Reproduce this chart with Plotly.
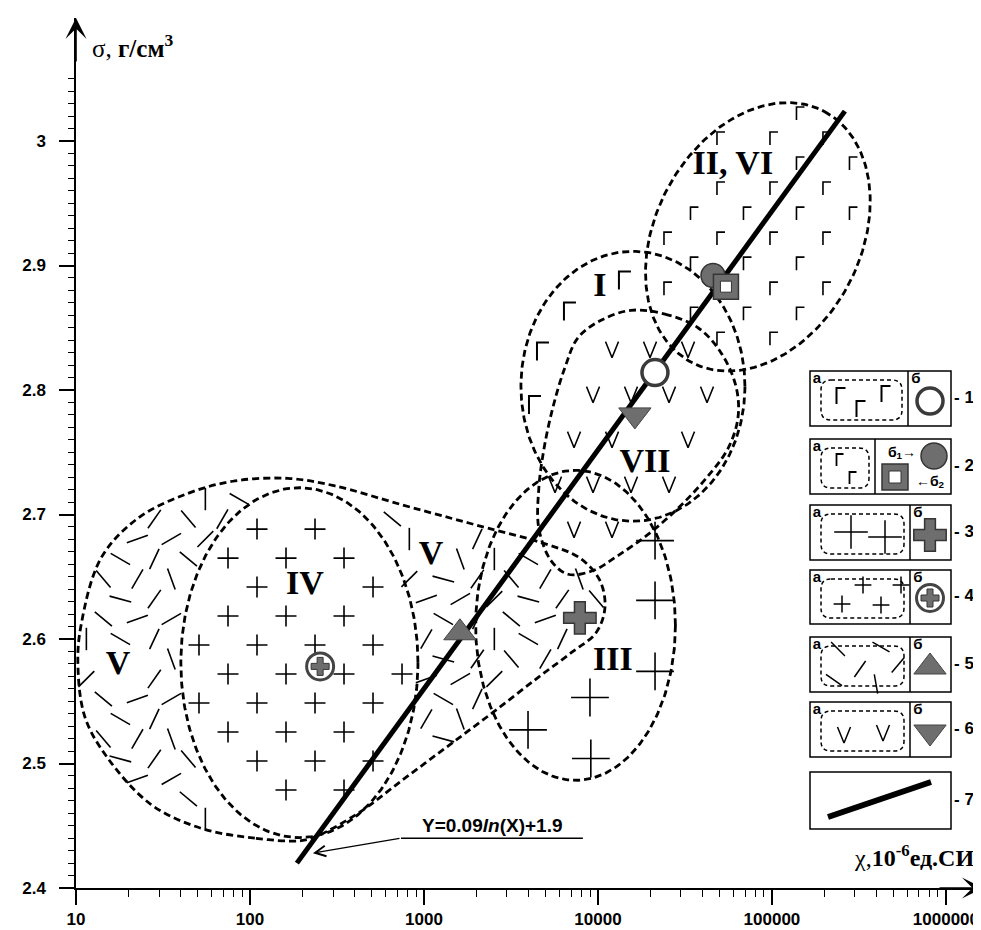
import numpy as np
import plotly.graph_objects as go

# ======================= values =======================
# axes
x_tickvals = [10, 100, 1000, 10000, 100000, 1000000]
x_ticktext = ["10", "100", "1000", "10000", "100000", "1000000"]
y_tickvals = [2.4, 2.5, 2.6, 2.7, 2.8, 2.9, 3.0]
y_ticktext = ["2.4", "2.5", "2.6", "2.7", "2.8", "2.9", "3"]
X_RANGE_LG = [1.0, 6.213]
Y_RANGE = [2.4, 3.0988]

# regression line  Y = 0.09 ln(X) + 1.9  (drawn end points)
line_chi = [186, 262500]
line_sigma = [2.420, 3.024]
formula_text = "Y=0.09<i>ln</i>(X)+1.9"
formula_underline_chi = [738, 8190]
formula_underline_sigma = [2.440, 2.440]
formula_tip_chi = 230
formula_tip_sigma = 2.428

# group mean values (legend symbols "б")
mean1_chi, mean1_sigma = [21260], [2.814]      # 1б  open circle
mean2a_chi, mean2a_sigma = [45840], [2.892]    # 2б1 filled circle
mean2b_chi, mean2b_sigma = [54400], [2.883]    # 2б2 square
mean3_chi, mean3_sigma = [7870], [2.617]       # 3б  cross
mean4_chi, mean4_sigma = [253], [2.578]        # 4б  circled cross
mean5_chi, mean5_sigma = [1609], [2.605]       # 5б  triangle up
mean6_chi, mean6_sigma = [16300], [2.780]      # 6б  triangle down

# elliptic fields: centre and two half-axis vectors (decades of chi, sigma)
ell_names = ["II, VI", "I", "III", "IV"]
ell_c_lgchi = [4.919, 4.201, 3.871, 2.284]
ell_c_sigma = [2.923, 2.803, 2.611, 2.581]
ell_u_lgchi = [0.3825, 0.6437, 0.5743, 0.6814]
ell_u_sigma = [0.1007, 0.0, 0.0, 0.0]
ell_v_lgchi = [0.5203, 0.0, 0.0, 0.0]
ell_v_sigma = [-0.0386, 0.1084, 0.1245, 0.1405]

# field V outline (log10 chi, sigma)
V_lgchi = [2.294, 2.028, 1.718, 1.432, 1.184, 1.052, 1.011, 1.029, 1.144, 1.356,
           1.644, 1.914, 2.218, 2.488, 2.868, 3.156, 3.368, 3.684, 3.896, 4.011,
           4.040, 3.989, 3.856, 3.655, 3.396, 3.138, 2.879, 2.621, 2.390]
V_sigma = [2.438, 2.440, 2.448, 2.467, 2.504, 2.537, 2.579, 2.611, 2.665, 2.697,
           2.717, 2.727, 2.729, 2.723, 2.708, 2.697, 2.689, 2.677, 2.665, 2.647,
           2.625, 2.605, 2.590, 2.569, 2.541, 2.514, 2.487, 2.460, 2.442]

# field VII outline (log10 chi, sigma)
VII_lgchi = [4.190, 4.385, 4.575, 4.707, 4.793, 4.805, 4.747, 4.615, 4.460, 4.288,
             4.115, 3.972, 3.828, 3.730, 3.660, 3.660, 3.690, 3.741, 3.810, 3.885, 4.018]
VII_sigma = [2.864, 2.861, 2.850, 2.830, 2.803, 2.778, 2.753, 2.728, 2.705, 2.684,
             2.667, 2.655, 2.652, 2.663, 2.689, 2.721, 2.753, 2.786, 2.818, 2.842, 2.856]

# field labels
label_text = ["II, VI", "I", "VII", "IV", "V", "V", "III"]
label_lgchi = [4.775, 4.011, 4.270, 2.316, 1.242, 3.040, 4.086]
label_sigma = [2.980, 2.882, 2.741, 2.643, 2.579, 2.667, 2.582]

# individual symbols of field I (Г) and field III (+)
I_sym_lgchi = [4.155, 3.839, 3.684, 3.638]
I_sym_sigma = [2.888, 2.863, 2.831, 2.788]
III_sym_lgchi = [4.328, 4.328, 4.328, 3.954, 3.598, 3.959]
III_sym_sigma = [2.679, 2.631, 2.574, 2.553, 2.527, 2.504]

# ============================================================================
GRAY = "#6e6e6e"
DARK = "#353535"
DASH = "7px,4px"
DEC_PER_PX = 1 / 174.0      # glyph size helpers (style only)
SIG_PER_PX = 1 / 1245.0

fig = go.Figure()


def tr(**kw):
    kw.setdefault("showlegend", False)
    kw.setdefault("hoverinfo", "skip")
    fig.add_trace(go.Scatter(**kw))


def stagger(lg0, s0, dlg, ds, n=50):
    L, S, I, J = [], [], [], []
    for j in range(-n, n + 1):
        off = 0.5 * dlg if j % 2 else 0.0
        for i in range(-n, n + 1):
            L.append(lg0 + i * dlg + off)
            S.append(s0 + j * ds)
            I.append(i)
            J.append(j)
    return np.array(L), np.array(S), np.array(I), np.array(J)


def ell_r(k, lg, s):
    a, b = ell_u_lgchi[k], ell_v_lgchi[k]
    c, d = ell_u_sigma[k], ell_v_sigma[k]
    det = a * d - b * c
    dl = lg - ell_c_lgchi[k]
    dsg = s - ell_c_sigma[k]
    p = (d * dl - b * dsg) / det
    q = (-c * dl + a * dsg) / det
    return np.sqrt(p * p + q * q)


def in_poly(px, py, vx, vy):
    vx = np.asarray(vx)
    vy = np.asarray(vy)
    inside = np.zeros(len(px), bool)
    j = len(vx) - 1
    for i in range(len(vx)):
        cond = ((vy[i] > py) != (vy[j] > py)) & (
            px < (vx[j] - vx[i]) * (py - vy[i]) / (vy[j] - vy[i] + 1e-12) + vx[i])
        inside ^= cond
        j = i
    return inside


def in_poly_m(px, py, vx, vy, ml, ms):
    return (in_poly(px, py, vx, vy) & in_poly(px + ml, py, vx, vy) & in_poly(px - ml, py, vx, vy)
            & in_poly(px, py + ms, vx, vy) & in_poly(px, py - ms, vx, vy))


def near(lg, s, c_lg, c_s, rl, rs):
    return ((lg - c_lg) / rl) ** 2 + ((s - c_s) / rs) ** 2 < 1


def in_box(lg, s, c_lg, c_s, half_l, s_lo, s_hi):
    return (np.abs(lg - c_lg) < half_l) & (s > c_s + s_lo) & (s < c_s + s_hi)


def glyph(L, S, kind, w, h):
    """stroke pattern glyph 'G' (Г) or 'V' centred on each point; w, h in px"""
    xs, ys = [], []
    dw, dh = 0.5 * w * DEC_PER_PX, 0.5 * h * SIG_PER_PX
    for l, s in zip(L, S):
        if kind == "G":
            px = [l - dw, l - dw, l + dw]
            py = [s - dh, s + dh, s + dh]
        else:
            px = [l - dw, l, l + dw]
            py = [s + dh, s - dh, s + dh]
        xs += [10 ** v for v in px] + [None]
        ys += py + [None]
    return xs, ys


def glyph_px(X, Y, kind, w, h):
    xs, ys = [], []
    for x, y in zip(X, Y):
        if kind == "G":
            xs += [x - w / 2, x - w / 2, x + w / 2, None]
            ys += [y + h / 2, y - h / 2, y - h / 2, None]
        else:
            xs += [x - w / 2, x, x + w / 2, None]
            ys += [y - h / 2, y + h / 2, y - h / 2, None]
    return xs, ys


# ---------------- pattern symbols ----------------
# II, VI : small Г
L, S, _, _ = stagger(4.707, 3.002, 0.3046, 0.0201)
k = ((ell_r(0, L, S) < 0.94) & ~in_poly(L, S, VII_lgchi, VII_sigma)
     & ~in_box(L, S, 4.775, 2.980, 0.30, -0.012, 0.012)
     & ~near(L, S, 4.70, 2.887, 0.12, 0.016))
gx, gy = glyph(L[k], S[k], "G", 8, 13)
tr(x=gx, y=gy, mode="lines", line=dict(color="black", width=1.6))

# VII : V
L, S, _, _ = stagger(4.190, 2.724, 0.2184, 0.03614)
k = (in_poly_m(L, S, VII_lgchi, VII_sigma, 0.03, 0.006)
     & ~in_box(L, S, 4.270, 2.741, 0.15, -0.008, 0.022))
gx, gy = glyph(L[k], S[k], "V", 13, 16)
tr(x=gx, y=gy, mode="lines", line=dict(color="black", width=1.5))

# IV : small +
L, S, _, _ = stagger(2.207, 2.665, 0.3334, 0.02329)
k = ((ell_r(3, L, S) < 0.9) & ~near(L, S, 2.316, 2.643, 0.24, 0.017)
     & ~near(L, S, 2.403, 2.578, 0.1, 0.014))
tr(x=10 ** L[k], y=S[k], mode="markers",
   marker=dict(symbol="cross-thin", size=15, line=dict(color="black", width=1.6)))

# V : short dashes
ANG = np.array([30, -45, 70, -20, 50, -65, 15, 90, -30, 120, 40, -55])
L, S, I, J = stagger(1.255, 2.60, 0.1954, 0.01606)
k = (in_poly_m(L, S, V_lgchi, V_sigma, 0.035, 0.007) & (ell_r(3, L, S) > 1.04)
     & ~in_poly(L, S, VII_lgchi, VII_sigma)
     & ~near(L, S, 1.242, 2.579, 0.13, 0.018) & ~near(L, S, 3.040, 2.667, 0.13, 0.018)
     & ~near(L, S, 3.207, 2.605, 0.08, 0.012) & ~near(L, S, 3.896, 2.617, 0.08, 0.012))
tr(x=10 ** L[k], y=S[k], mode="markers",
   marker=dict(symbol="line-ew", size=16, angle=ANG[(I[k] * 5 + J[k] * 3) % 12],
               line=dict(color="black", width=1.6)))

# I : large Г
gx, gy = glyph(I_sym_lgchi, I_sym_sigma, "G", 12, 18)
tr(x=gx, y=gy, mode="lines", line=dict(color="black", width=2))
# III : large +
tr(x=10 ** np.array(III_sym_lgchi), y=III_sym_sigma, mode="markers",
   marker=dict(symbol="cross-thin", size=27, line=dict(color="black", width=1.6)))

# ---------------- field outlines ----------------
t = np.linspace(0, 2 * np.pi, 241)
for kk in range(len(ell_names)):
    lg = ell_c_lgchi[kk] + ell_u_lgchi[kk] * np.cos(t) + ell_v_lgchi[kk] * np.sin(t)
    sg = ell_c_sigma[kk] + ell_u_sigma[kk] * np.cos(t) + ell_v_sigma[kk] * np.sin(t)
    tr(x=10 ** lg, y=sg, mode="lines", line=dict(color="black", width=2.8, dash=DASH))

for vx, vy in [(V_lgchi, V_sigma), (VII_lgchi, VII_sigma)]:
    tr(x=10 ** np.array(vx + [vx[0]]), y=vy + [vy[0]], mode="lines",
       line=dict(color="black", width=2.8, dash=DASH, shape="spline", smoothing=1.0))

# ---------------- regression line ----------------
tr(x=line_chi, y=line_sigma, mode="lines", line=dict(color="black", width=5))
tr(x=formula_underline_chi, y=formula_underline_sigma, mode="lines",
   line=dict(color="black", width=1.5))

# ---------------- group means ----------------
tr(x=mean1_chi, y=mean1_sigma, mode="markers",
   marker=dict(symbol="circle", size=26, color="white", line=dict(color="#3a3a3a", width=3.5)))
tr(x=mean2a_chi, y=mean2a_sigma, mode="markers",
   marker=dict(symbol="circle", size=24, color=GRAY, line=dict(color=DARK, width=1.5)))
tr(x=mean2b_chi, y=mean2b_sigma, mode="markers",
   marker=dict(symbol="square", size=25, color=GRAY, line=dict(color=DARK, width=1.5)))
tr(x=mean2b_chi, y=mean2b_sigma, mode="markers",
   marker=dict(symbol="square", size=11, color="white", line=dict(color=DARK, width=1)))
tr(x=mean3_chi, y=mean3_sigma, mode="markers",
   marker=dict(symbol="cross", size=27, color=GRAY, line=dict(color=DARK, width=1.5)))
tr(x=mean4_chi, y=mean4_sigma, mode="markers",
   marker=dict(symbol="circle", size=27, color="white", line=dict(color="#444", width=3)))
tr(x=mean4_chi, y=mean4_sigma, mode="markers",
   marker=dict(symbol="cross", size=15, color=GRAY, line=dict(color=DARK, width=1)))
tr(x=mean5_chi, y=mean5_sigma, mode="markers",
   marker=dict(symbol="triangle-up", size=28, color=GRAY, line=dict(color="#444", width=1)))
tr(x=mean6_chi, y=mean6_sigma, mode="markers",
   marker=dict(symbol="triangle-down", size=28, color=GRAY, line=dict(color="#444", width=1)))

# ---------------- field labels ----------------
tr(x=10 ** np.array(label_lgchi), y=label_sigma, mode="text",
   text=["<b>" + s + "</b>" for s in label_text],
   textfont=dict(family="Liberation Serif", size=34, color="black"))

# ---------------- legend (drawn in an overlay pixel frame) ----------------
box_top = [363, 431, 497, 562, 629, 694, 764]
box_bot = [418, 486, 552, 616, 684, 749, 821]
box_div = [900, 867, 902, 902, 902, 902, None]
LX0, LX1 = 802, 943


def ltext(x, y, s, size=16, family="Liberation Sans", pos="middle center"):
    tr(x=[x], y=[y], xaxis="x2", yaxis="y2", mode="text", text=[s], textposition=pos,
       textfont=dict(family=family, size=size, color="black"), cliponaxis=False)


def lmark(x, y, **m):
    tr(x=[x] if np.isscalar(x) else x, y=[y] if np.isscalar(y) else y, xaxis="x2",
       yaxis="y2", mode="markers", marker=m, cliponaxis=False)


def lglyph(X, Y, kind, w, h, width=1.6):
    gx, gy = glyph_px(X, Y, kind, w, h)
    tr(x=gx, y=gy, xaxis="x2", yaxis="y2", mode="lines", cliponaxis=False,
       line=dict(color="black", width=width))


def rrect(x0, y0, x1, y1, r):
    return (f"M{x0 + r},{y0} L{x1 - r},{y0} Q{x1},{y0} {x1},{y0 + r} L{x1},{y1 - r} "
            f"Q{x1},{y1} {x1 - r},{y1} L{x0 + r},{y1} Q{x0},{y1} {x0},{y1 - r} "
            f"L{x0},{y0 + r} Q{x0},{y0} {x0 + r},{y0} Z")


for i in range(7):
    y0, y1 = box_top[i], box_bot[i]
    fig.add_shape(type="rect", xref="x2", yref="y2", x0=LX0, x1=LX1, y0=y0, y1=y1,
                  line=dict(color="black", width=1.5), fillcolor="white", layer="below")
    ltext(946, (y0 + y1) / 2, "<b>- %d</b>" % (i + 1), size=17, pos="middle right")
    if box_div[i] is not None:
        xd = box_div[i]
        fig.add_shape(type="line", xref="x2", yref="y2", x0=xd, x1=xd, y0=y0, y1=y1,
                      line=dict(color="black", width=1.5), layer="below")
        ltext(809, y0 + 8, "<b>а</b>", size=15)
        fig.add_shape(type="path", xref="x2", yref="y2",
                      path=rrect(813, y0 + 9, xd - 6, y1 - 6, 10),
                      line=dict(color="black", width=1.5, dash="4px,3px"), layer="below")
        if i != 1:
            ltext(xd + 8, y0 + 8, "<b>б</b>", size=15)

# 1
lglyph([833, 853, 878], [388, 401, 386], "G", 9, 16, 2)
lmark(922, 393, symbol="circle", size=26, color="white", line=dict(color="#3a3a3a", width=3.5))
# 2
lglyph([832, 845], [452, 470], "G", 7, 12, 1.8)
lmark(926, 448, symbol="circle", size=26, color=GRAY, line=dict(color=DARK, width=1.5))
lmark(887, 469, symbol="square", size=26, color=GRAY, line=dict(color=DARK, width=1.5))
lmark(887, 469, symbol="square", size=12, color="white", line=dict(color=DARK, width=1))
ltext(894, 445, "<b>б<sub>1</sub>→</b>", size=14)
ltext(922, 474, "<b>←б<sub>2</sub></b>", size=14)
# 3
lmark([843, 877], [524, 529], symbol="cross-thin", size=24, line=dict(color="black", width=1.5))
lmark(922, 527, symbol="cross", size=27, color=GRAY, line=dict(color=DARK, width=1.5))
# 4
lmark([855, 893, 834, 873], [577, 577, 596, 597], symbol="cross-thin", size=12,
      line=dict(color="black", width=1.5))
lmark(922, 590, symbol="circle", size=27, color="white", line=dict(color="#444", width=3))
lmark(922, 590, symbol="cross", size=15, color=GRAY, line=dict(color=DARK, width=1))
# 5
tr(x=[830, 852, 873, 890, 826, 868], y=[641, 661, 639, 657, 672, 676], xaxis="x2", yaxis="y2",
   mode="markers", cliponaxis=False,
   marker=dict(symbol="line-ew", size=14, angle=[45, -55, 30, -50, 35, 80],
               line=dict(color="black", width=1.5)))
lmark(922, 659, symbol="triangle-up", size=28, color=GRAY, line=dict(color="#444", width=1))
# 6
lglyph([836, 875], [727, 725], "V", 13, 16, 1.5)
lmark(922, 724, symbol="triangle-down", size=28, color=GRAY, line=dict(color="#444", width=1))
# 7
tr(x=[820, 923], y=[809, 774], xaxis="x2", yaxis="y2", mode="lines", cliponaxis=False,
   line=dict(color="black", width=6))

# ---------------- axes ----------------
x_minor = [m * 10 ** e for e in range(1, 7) for m in range(2, 10)]
y_minor = [round(2.4 + 0.01 * i, 2) for i in range(1, 66) if i % 10]

axfont = dict(family="Liberation Sans", size=17, color="black", weight="bold")
fig.update_layout(
    width=981, height=930,
    margin=dict(l=68, r=6, t=10, b=50, autoexpand=False),
    plot_bgcolor="white", paper_bgcolor="white", showlegend=False,
    xaxis=dict(type="log", range=X_RANGE_LG, tickvals=x_tickvals, ticktext=x_ticktext,
               ticks="outside", ticklen=15, tickwidth=1.5, tickcolor="black",
               showline=True, linecolor="black", linewidth=1.5, showgrid=False,
               zeroline=False, tickfont=axfont, ticklabelstandoff=0, fixedrange=True,
               automargin=False,
               minor=dict(tickvals=x_minor, ticks="outside", ticklen=7, tickwidth=1.3,
                          tickcolor="black", showgrid=False)),
    yaxis=dict(range=Y_RANGE, tickvals=y_tickvals, ticktext=y_ticktext,
               ticks="outside", ticklen=15, tickwidth=1.5, tickcolor="black",
               showline=True, linecolor="black", linewidth=1.5, showgrid=False,
               zeroline=False, tickfont=axfont, ticklabelstandoff=10, fixedrange=True,
               automargin=False,
               minor=dict(tickvals=y_minor, ticks="outside", ticklen=6, tickwidth=1.2,
                          tickcolor="black", showgrid=False)),
    xaxis2=dict(overlaying="x", range=[68, 975], visible=False, fixedrange=True,
                automargin=False),
    yaxis2=dict(overlaying="y", range=[880, 10], visible=False, fixedrange=True,
                automargin=False),
)

ann = [
    # axis arrows
    dict(xref="paper", yref="paper", x=1, y=0, ax=-45, ay=0, text="", showarrow=True,
         arrowhead=3, arrowsize=2.2, arrowwidth=1.6, arrowcolor="black"),
    dict(xref="paper", yref="paper", x=0, y=1, ax=0, ay=45, text="", showarrow=True,
         arrowhead=3, arrowsize=2.2, arrowwidth=1.6, arrowcolor="black"),
    # axis titles
    dict(xref="paper", yref="paper", x=0.0154, y=0.968, xanchor="left", yanchor="middle",
         text="σ, <b>г/см<sup>3</sup></b>", showarrow=False,
         font=dict(family="Liberation Serif", size=25, color="black")),
    dict(xref="paper", yref="paper", x=0.992, y=0.037, xanchor="right", yanchor="middle",
         text="χ,<b>10<sup>-6</sup>ед.СИ</b>", showarrow=False,
         font=dict(family="Liberation Serif", size=24, color="black")),
    # regression formula
    dict(xref="x", yref="y",
         x=0.5 * (np.log10(formula_underline_chi[0]) + np.log10(formula_underline_chi[1])),
         y=formula_underline_sigma[0], xanchor="center", yanchor="bottom",
         text="<b>" + formula_text + "</b>",
         showarrow=False, font=dict(family="Liberation Sans", size=19, color="black")),
    dict(xref="x", yref="y", axref="x", ayref="y",
         x=np.log10(formula_tip_chi), y=formula_tip_sigma,
         ax=np.log10(formula_underline_chi[0]), ay=formula_underline_sigma[0],
         text="", showarrow=True, arrowhead=5, arrowsize=1.6, arrowwidth=1.3,
         arrowcolor="black"),
]
fig.update_layout(annotations=ann)

fig.write_html("out.html")
